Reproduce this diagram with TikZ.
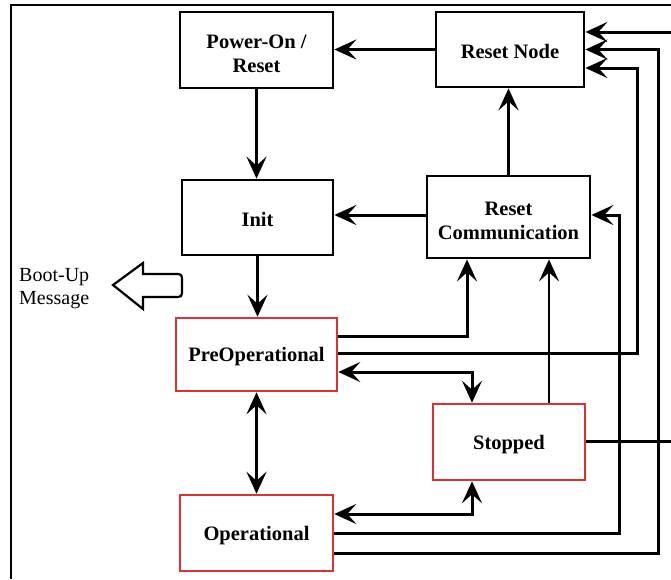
\documentclass[tikz,border=0pt]{standalone}
\usepackage{fontspec}
\setmainfont{Liberation Serif}
\usetikzlibrary{arrows.meta}
\definecolor{statered}{RGB}{222,48,48}
\begin{document}
\begin{tikzpicture}[x=1pt,y=-1pt,
  box/.style={draw=black,line width=2.8pt,fill=white,align=center,
    font=\fontsize{20.5}{24}\selectfont\bfseries,inner sep=0pt},
  oneline/.style={text height=19pt},
  twoline/.style={text height=44pt,text depth=0pt},
  redbox/.style={box,draw=statered,line width=2.5pt},
  arr/.style={line width=3pt,-{Stealth[length=22pt,width=20pt,inset=9pt]}},
  darr/.style={line width=3pt,{Stealth[length=22pt,width=20pt,inset=9pt]}-{Stealth[length=22pt,width=20pt,inset=9pt]}},
  wire/.style={line width=3pt},
  frameline/.style={line width=2.2pt}]
\useasboundingbox (0,0) rectangle (671,579);

% outer frame (top and left edges)
\draw[frameline] (671,5) -- (11,5) -- (11,579);

% states
\node[box,twoline,minimum width=153pt,minimum height=76pt] (pwr) at (256.5,50) {Power-On /\\Reset};
\node[box,oneline,minimum width=148pt,minimum height=75pt] (rnode) at (510,49.5) {Reset Node};
\node[box,oneline,minimum width=151pt,minimum height=75pt] (init) at (257.5,217.5) {Init};
\node[box,twoline,minimum width=163pt,minimum height=82pt] (rcomm) at (508.5,217) {Reset\\Communication};
\node[redbox,oneline,minimum width=161pt,minimum height=73pt] (pre) at (256.5,354.5) {PreOperational};
\node[redbox,oneline,minimum width=152pt,minimum height=76pt] (stop) at (509,442) {Stopped};
\node[redbox,oneline,minimum width=153pt,minimum height=76pt] (op) at (256.5,533) {Operational};

% boot-up message
\node[anchor=west,align=left,inner sep=0pt,font=\fontsize{20}{23}\selectfont] (boot) at (19,289) {Boot-Up\\Message};
\draw[line width=2.2pt,line join=miter] (113,285) -- (143,263) -- (143,274) -- (174,274)
  .. controls (182,274) .. (182,282) -- (182,289)
  .. controls (182,297) .. (174,297) -- (143,297) -- (143,309) -- cycle;

% bus lines on the right
\coordinate (bus1) at (619,0);
\coordinate (bus2) at (637,0);
\coordinate (bus3) at (658,0);
\coordinate (edgeTop) at (671,32);
\coordinate (edgeStop) at (671,441);

% entry points
\coordinate (rnInA) at ([yshift=17.5pt]rnode.east);
\coordinate (rnInB) at (rnode.east);
\coordinate (rnInC) at ([yshift=-18.5pt]rnode.east);
\coordinate (rcIn) at ([yshift=2pt]rcomm.east);
\coordinate (rcBotA) at ([xshift=-41.5pt]rcomm.south);
\coordinate (stTopA) at ([xshift=-37pt]stop.north);
\coordinate (stTopB) at ([xshift=40pt]stop.north);
\coordinate (stBot) at ([xshift=-37pt]stop.south);
\coordinate (preOutA) at ([yshift=18pt]pre.east);
\coordinate (preOutB) at ([yshift=1.5pt]pre.east);
\coordinate (preInC) at ([yshift=-17.5pt]pre.east);
\coordinate (opInA) at ([yshift=19pt]op.east);
\coordinate (opOutC) at ([yshift=-20pt]op.east);

% transitions
\draw[arr] (rnode.west) -- (rnode.west -| pwr.east);
\draw[arr] (pwr.south) -- (pwr.south |- init.north);
\draw[arr] (rcomm.north) -- (rcomm.north |- rnode.south);
\draw[arr] ([yshift=2pt]rcomm.west) -- ([yshift=2pt]rcomm.west -| init.east);
\draw[arr] (init.south) -- (init.south |- pre.north);
\draw[arr] (preOutA) -| (rcBotA);
\draw[arr] (preOutB) -| (bus2 |- rnInC) -- (rnInC);
\draw[darr] (preInC) -| (stTopA);
\draw[arr,line width=2.4pt] (stTopB) -- (stTopB |- rcomm.south);
\draw[wire] (stop.east |- edgeStop) -- (edgeStop);
\draw[arr] (edgeTop) -- (rnInA);
\draw[darr] (pre.south) -- (op.north);
\draw[darr] (stBot) |- (opInA);
\draw[arr] (op.east) -| (bus1 |- rcIn) -- (rcIn);
\draw[arr] (opOutC) -| (bus3 |- rnInB) -- (rnInB);
\end{tikzpicture}
\end{document}
